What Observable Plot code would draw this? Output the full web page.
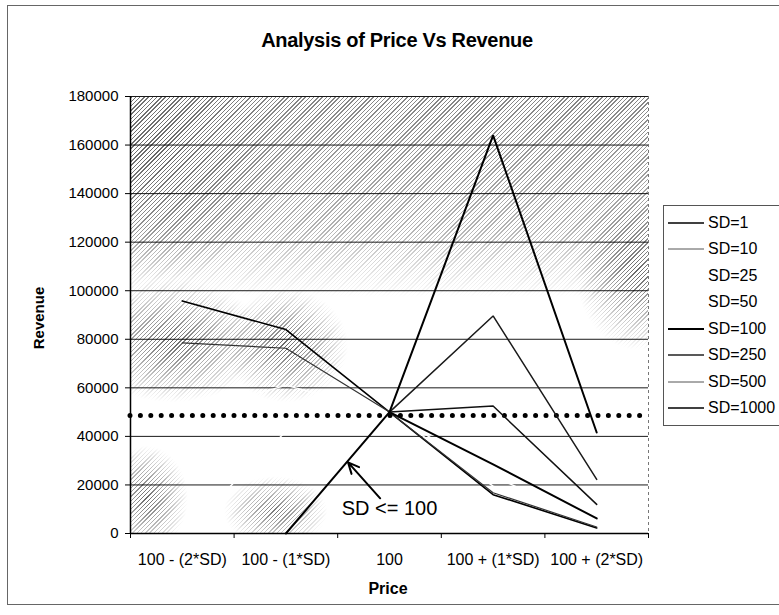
<!DOCTYPE html>
<html>
<head>
<meta charset="utf-8">
<script src="https://cdn.jsdelivr.net/npm/d3@7"></script>
<script src="https://cdn.jsdelivr.net/npm/@observablehq/plot@0.6"></script>
<style>
  html, body { margin: 0; padding: 0; background: #fff; }
  body { width: 779px; height: 615px; overflow: hidden; position: relative; font-family: "Liberation Sans", Arial, sans-serif; }
  #frame { position: absolute; left: 7px; top: 5px; width: 800px; height: 600px; border: 1px solid #666; box-sizing: border-box; }
  #title { position: absolute; left: 0; width: 794px; top: 29px; text-align: center; font-weight: bold; font-size: 20px; color: #000; letter-spacing: -0.3px; }
  #texture { position: absolute; left: 131px; top: 97px; width: 517px; height: 436px;
    background: repeating-linear-gradient(135deg, rgba(0,0,0,0.6) 0px, rgba(0,0,0,0.6) 1px, transparent 1px, transparent 3px);
    -webkit-mask-image:
      linear-gradient(to bottom, rgba(0,0,0,0.8) 0%, rgba(0,0,0,0.5) 30%, rgba(0,0,0,0) 46%),
      radial-gradient(ellipse 25% 30% at 5% 12%, rgba(0,0,0,1), rgba(0,0,0,0)),
      radial-gradient(ellipse 18% 14% at 8% 56%, rgba(0,0,0,1), rgba(0,0,0,0)),
      radial-gradient(ellipse 12% 13% at 30% 57%, rgba(0,0,0,1), rgba(0,0,0,0)),
      radial-gradient(ellipse 12% 18% at 98% 40%, rgba(0,0,0,1), rgba(0,0,0,0)),
      radial-gradient(ellipse 8% 12% at 3% 92%, rgba(0,0,0,1), rgba(0,0,0,0)),
      radial-gradient(ellipse 10% 8% at 28% 95%, rgba(0,0,0,0.9), rgba(0,0,0,0));
    mask-image:
      linear-gradient(to bottom, rgba(0,0,0,0.8) 0%, rgba(0,0,0,0.5) 30%, rgba(0,0,0,0) 46%),
      radial-gradient(ellipse 25% 30% at 5% 12%, rgba(0,0,0,1), rgba(0,0,0,0)),
      radial-gradient(ellipse 18% 14% at 8% 56%, rgba(0,0,0,1), rgba(0,0,0,0)),
      radial-gradient(ellipse 12% 13% at 30% 57%, rgba(0,0,0,1), rgba(0,0,0,0)),
      radial-gradient(ellipse 12% 18% at 98% 40%, rgba(0,0,0,1), rgba(0,0,0,0)),
      radial-gradient(ellipse 8% 12% at 3% 92%, rgba(0,0,0,1), rgba(0,0,0,0)),
      radial-gradient(ellipse 10% 8% at 28% 95%, rgba(0,0,0,0.9), rgba(0,0,0,0));
  }
  #chart { position: absolute; left: 0; top: 60px; }
  #chart svg { background: transparent !important; }
  #ylabel { position: absolute; left: 38px; top: 318px; transform: translate(-50%, -50%) rotate(-90deg); font-weight: bold; font-size: 15px; white-space: nowrap; }
  #xlabel { position: absolute; left: 388px; top: 580px; transform: translateX(-50%); font-weight: bold; font-size: 16px; }
  #legend { position: absolute; left: 663px; top: 205px; width: 130px; height: 221px; border: 1px solid #555; box-sizing: border-box; background: #fff; }
  .item { position: absolute; left: 4px; height: 20px; display: flex; align-items: center; font-size: 16px; color: #000; }
  .item svg { width: 36px; height: 20px; margin-right: 4px; }
</style>
</head>
<body>
<div id="frame"></div>
<div id="title">Analysis of Price Vs Revenue</div>
<div id="texture"></div>
<div id="chart"></div>
<div id="ylabel">Revenue</div>
<div id="xlabel">Price</div>
<div id="legend"></div>
<script>
// ---- data ----
const categories = ["100 - (2*SD)", "100 - (1*SD)", "100", "100 + (1*SD)", "100 + (2*SD)"];
const seriesNames = ["SD=1", "SD=10", "SD=25", "SD=50", "SD=100", "SD=250", "SD=500", "SD=1000"];
const sd1    = [95800, 84000, 50000, 16000, 2300];
const sd10   = [78500, 76300, 50000, 16800, 2700];
const sd25   = [49000, 61000, 50000, 19500, 3400];
const sd50   = [0, 42000, 50000, 23500, 4500];
const sd100  = [null, 0, 50000, 28500, 6200];
const sd250  = [null, null, 50000, 52500, 12000];
const sd500  = [null, null, 50000, 89600, 22300];
const sd1000 = [null, null, 50000, 164000, 41600];
const seriesValues = [sd1, sd10, sd25, sd50, sd100, sd250, sd500, sd1000];
const referenceLevel = 48600;            // dotted horizontal line
const yTicks = [0, 20000, 40000, 60000, 80000, 100000, 120000, 140000, 160000, 180000];
const annotationText = ["SD <= 100"];
const annotationArrow = [{x1: 1.91, y1: 14500, x2: 1.60, y2: 29300}];
const annotationLabel = [{x: 2.0, y: 10200, text: annotationText[0]}];

// ---- styles ----
const seriesStroke = ["#000", "#333", "#fff", "#fff", "#000", "#111", "#1a1a1a", "#000"];
const seriesWidth  = [1.6, 1.2, 1.4, 1.4, 2, 1.5, 1.5, 2];
const legendStroke = ["#000", "#555", "none", "none", "#000", "#222", "#555", "#000"];
const legendWidth  = [1.6, 1, 0, 0, 2.2, 1.5, 1, 1.6];
const lightSeries = [2, 3];   // series that scan as white

const rows = [];
seriesNames.forEach((name, s) => {
  seriesValues[s].forEach((v, i) => { if (v != null) rows.push({series: name, s, i, value: v}); });
});

const idx = d3.range(categories.length);
const boundaries = d3.range(categories.length + 1).map(i => i - 0.5);

const lineMark = s =>
  Plot.line(rows.filter(d => d.s === s), {x: "i", y: "value", stroke: seriesStroke[s], strokeWidth: seriesWidth[s], strokeLinejoin: "miter"});
const lightMarks = lightSeries.map(lineMark);
const darkMarks = seriesNames.map((_, s) => s).filter(s => !lightSeries.includes(s)).map(lineMark);

const chart = Plot.plot({
  width: 660,
  height: 540,
  marginLeft: 130,
  marginRight: 12,
  marginTop: 36,
  marginBottom: 67,
  style: {fontFamily: "'Liberation Sans', Arial, sans-serif", color: "#000", background: "transparent"},
  x: {type: "linear", domain: [-0.5, categories.length - 0.5], axis: null},
  y: {domain: [0, 180000], axis: null},
  marks: [
    Plot.gridY(yTicks, {stroke: "#000", strokeOpacity: 0.9, strokeWidth: 1}),
    Plot.ruleX([categories.length - 0.5], {stroke: "#777", strokeDasharray: "3 3", strokeWidth: 1}),
    ...lightMarks,
    Plot.ruleY([referenceLevel], {stroke: "#000", strokeWidth: 5, strokeDasharray: "0 10.4", strokeLinecap: "round"}),
    ...darkMarks,
    Plot.arrow(annotationArrow, {x1: "x1", y1: "y1", x2: "x2", y2: "y2", stroke: "#000", strokeWidth: 2, headLength: 9, headAngle: 50}),
    Plot.text(annotationLabel, {x: "x", y: "y", text: "text", fontSize: 20, fill: "#000"}),
    Plot.ruleY([0], {stroke: "#000", strokeWidth: 1.5}),
    Plot.ruleX([-0.5], {stroke: "#000", strokeWidth: 1.5}),
    Plot.axisY(yTicks, {tickSize: 5, tickPadding: 7, fontSize: 15, tickFormat: d3.format("d"), label: null, stroke: "#000"}),
    Plot.axisX(boundaries, {tickSize: 5, tickFormat: () => "", label: null, stroke: "#000"}),
    Plot.axisX(idx, {tickSize: 0, tickPadding: 20, fontSize: 16, tickFormat: i => categories[i], label: null})
  ]
});
document.getElementById("chart").appendChild(chart);

// ---- legend ----
const legend = document.getElementById("legend");
seriesNames.forEach((name, s) => {
  const item = document.createElement("div");
  item.className = "item";
  item.style.top = (6.5 + s * 26.5) + "px";
  const stroke = legendStroke[s];
  item.innerHTML = `<svg viewBox="0 0 36 20"><line x1="0" x2="36" y1="10" y2="10" stroke="${stroke}" stroke-width="${legendWidth[s]}"/></svg><span>${name}</span>`;
  legend.appendChild(item);
});
</script>
</body>
</html>
